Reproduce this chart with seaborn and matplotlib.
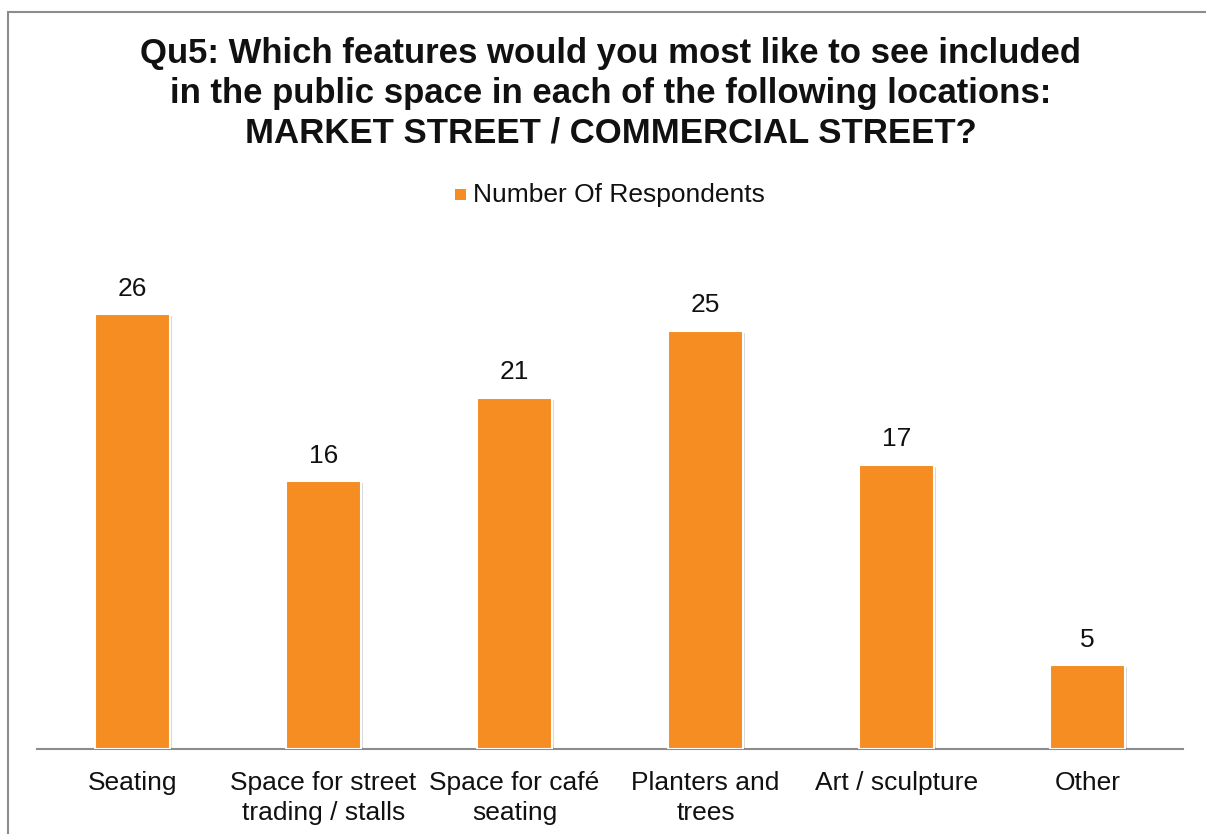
import matplotlib
matplotlib.use("Agg")
import matplotlib.pyplot as plt
import matplotlib.patheffects as pe
from matplotlib.patches import Rectangle
import seaborn as sns
import pandas as pd

categories = ["Seating", "Space for street\ntrading / stalls", "Space for café\nseating",
              "Planters and\ntrees", "Art / sculpture", "Other"]
respondents = [26, 16, 21, 25, 17, 5]
series_name = "Number Of Respondents"
title = ("Qu5: Which features would you most like to see included\n"
         "in the public space in each of the following locations:\n"
         "MARKET STREET / COMMERCIAL STREET?")

sns.set_theme(style="white")
plt.rcParams["font.family"] = ["Liberation Sans", "DejaVu Sans"]

W, H = 1206, 834
fig = plt.figure(figsize=(W / 100, H / 100), dpi=100)
ax = fig.add_axes([37 / W, (H - 749) / H, (1183 - 37) / W, (749 - 247) / H])

df = pd.DataFrame({"feature": categories, "count": respondents})
orange = "#F58D22"
sns.barplot(data=df, x="feature", y="count", color=orange, saturation=1,
            width=0.39, edgecolor="white", linewidth=1.5, ax=ax, zorder=3)

for bar in ax.patches:
    bar.set_path_effects([pe.SimplePatchShadow(offset=(1.5, -1.5), alpha=0.15,
                                               shadow_rgbFace="black"),
                          pe.Normal()])

for bar, v in zip(ax.patches, respondents):
    ax.annotate(str(v), (bar.get_x() + bar.get_width() / 2, v),
                xytext=(0, 9.5), textcoords="offset points",
                ha="center", va="bottom", fontsize=19, color="#111111")

ax.set_ylim(0, 30)
ax.set_xlim(-0.5, len(categories) - 0.5)
ax.set_xlabel("")
ax.set_ylabel("")
ax.set_yticks([])
ax.tick_params(axis="x", length=0, pad=16, labelsize=19, labelcolor="#111111")
for lbl in ax.get_xticklabels():
    lbl.set_linespacing(1.3)
for side in ["left", "right", "top"]:
    ax.spines[side].set_visible(False)
ax.spines["bottom"].set_color("#8c8c8c")
ax.spines["bottom"].set_linewidth(1.5)
ax.set_facecolor("none")

fig.text(611 / W, 1 - 37 / H, title, ha="center", va="top", fontsize=25,
         fontweight="bold", linespacing=1.26, color="#111111")

# legend
fig.patches.append(Rectangle((455 / W, 1 - 200 / H), 11 / W, 11 / H,
                             transform=fig.transFigure, facecolor=orange,
                             edgecolor="none"))
fig.text(473 / W, 1 - 195 / H, series_name, ha="left", va="center",
         fontsize=19, color="#111111")

# outer chart frame
fig.patches.append(Rectangle((8 / W, -0.05), 1.1, 1 - 12 / H + 0.05,
                             transform=fig.transFigure, facecolor="none",
                             edgecolor="#8c8c8c", linewidth=1.5, zorder=0))

fig.savefig("out.png", dpi=100)
